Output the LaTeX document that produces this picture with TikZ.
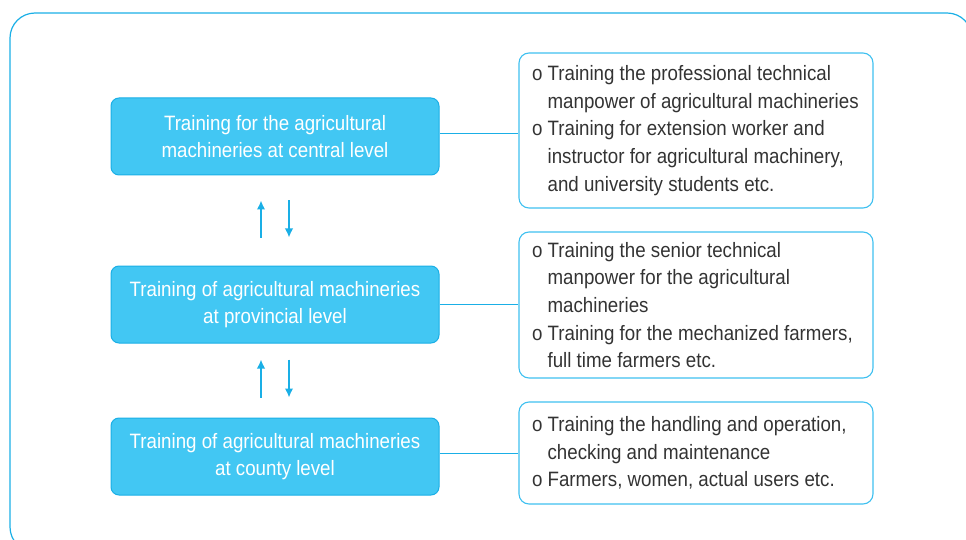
\documentclass[tikz,border=0pt]{standalone}
\usepackage{fontspec}
\setmainfont{Liberation Sans}[FakeStretch=0.9]
\usetikzlibrary{positioning, arrows.meta}

\definecolor{skyfill}{HTML}{42C7F3}
\definecolor{skyline}{HTML}{1AAFE6}
\definecolor{dutyline}{HTML}{3FC0F0}
\definecolor{textgray}{HTML}{333333}
\newcommand{\ind}{\hphantom{o\ }}

\begin{document}
\begin{tikzpicture}[x=1pt, y=1pt,
    level/.style={draw=skyline, fill=skyfill, rounded corners=8pt, text=white,
      minimum width=328pt, minimum height=77pt, align=center, line width=1pt,
      font=\fontsize{20.8}{27}\selectfont},
    duty/.style={draw=dutyline, rounded corners=10pt, text=textgray,
      text width=328pt, inner xsep=13pt, align=flush left, line width=1.1pt,
      font=\fontsize{20.8}{27.7}\selectfont},
    link/.style={skyline, line width=1.6pt},
    flow/.style={skyline, line width=1.6pt, -{Latex[length=9pt,width=8.5pt]}}]
    \useasboundingbox (0,0) rectangle (966,539);
    \begin{scope}
      \clip (0,0) rectangle (966,539);
      \draw[skyline, line width=1.2pt, rounded corners=25pt] (10,-13) rectangle (972,526);
    \end{scope}

    % training levels
    \node[level] (central) at (275,402.5) {Training for the agricultural\\machineries at central level};
    \node[level] (province) at (275,234.5) {Training of agricultural machineries\\at provincial level};
    \node[level] (county) at (275,82.5) {Training of agricultural machineries\\at county level};

    % what each level covers
    \node[duty, minimum height=155pt] (centraljob) at (696,408.5) {%
      o Training the professional technical\\
      \ind manpower of agricultural machineries\\
      o Training for extension worker and\\
      \ind instructor for agricultural machinery,\\
      \ind and university students etc.};
    \node[duty, minimum height=146pt] (provincejob) at (696,234) {%
      o Training the senior technical\\
      \ind manpower for the agricultural\\
      \ind machineries\\
      o Training for the mechanized farmers,\\
      \ind full time farmers etc.};
    \node[duty, minimum height=102pt] (countyjob) at (696,86) {%
      o Training the handling and operation,\\
      \ind checking and maintenance\\
      o Farmers, women, actual users etc.};

    \draw[link] ([yshift=3pt]central.east) -- ([yshift=3pt]central.east -| centraljob.west);
    \draw[link] (province.east) -- (province.east -| provincejob.west);
    \draw[link] ([yshift=3pt]county.east) -- ([yshift=3pt]county.east -| countyjob.west);

    \draw[flow] ([xshift=-14pt,yshift=28pt]province.north) -- ([xshift=-14pt,yshift=-25pt]central.south);
    \draw[flow] ([xshift=14pt,yshift=-25pt]central.south) -- ([xshift=14pt,yshift=28pt]province.north);
    \draw[flow] ([xshift=-14pt,yshift=20pt]county.north) -- ([xshift=-14pt,yshift=-16pt]province.south);
    \draw[flow] ([xshift=14pt,yshift=-16pt]province.south) -- ([xshift=14pt,yshift=20pt]county.north);
\end{tikzpicture}
\end{document}
